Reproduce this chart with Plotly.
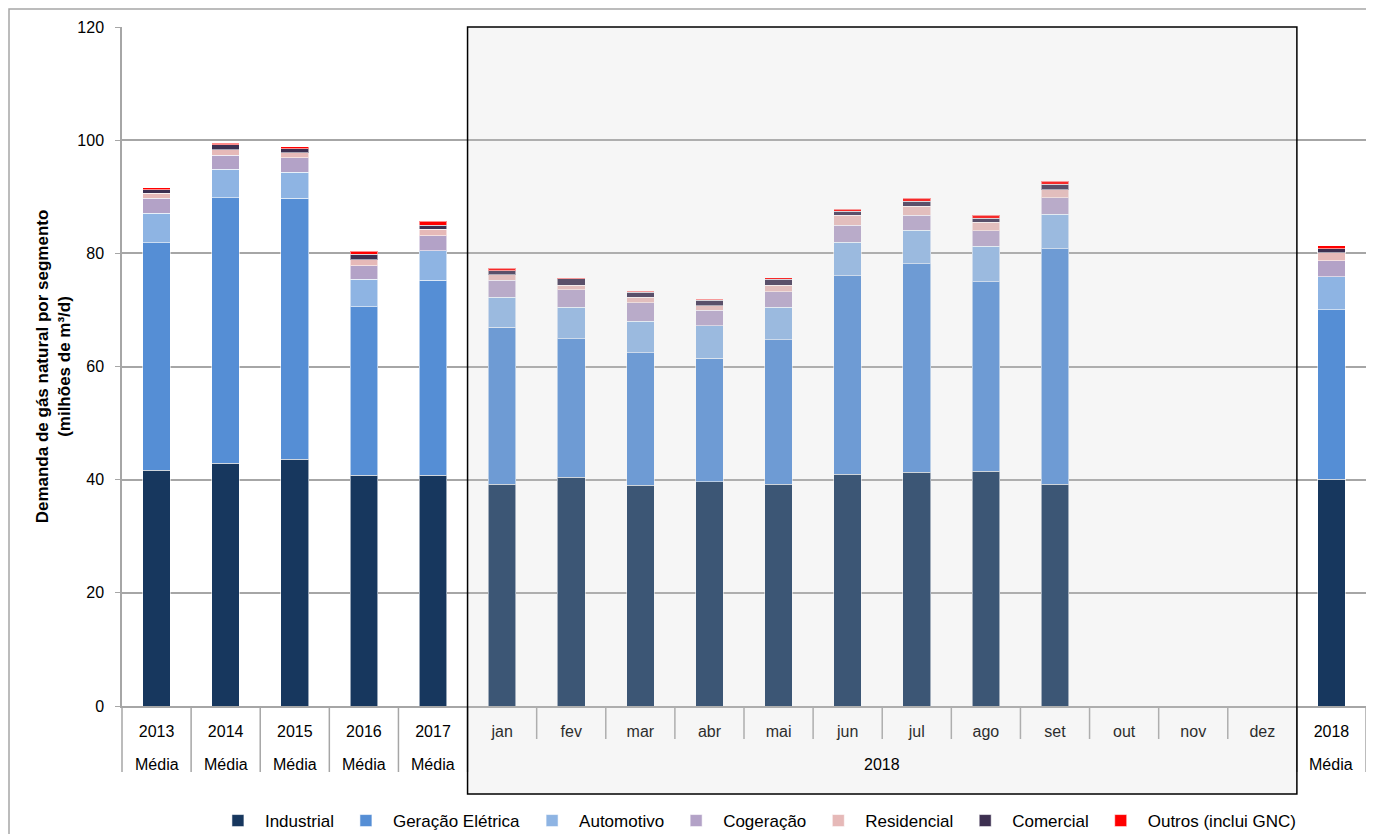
import plotly.graph_objects as go

# categorias do eixo x
anos = ["2013", "2014", "2015", "2016", "2017"]
meses = ["jan", "fev", "mar", "abr", "mai", "jun", "jul", "ago", "set", "out", "nov", "dez"]
media_2018 = "2018"
rotulo_media = "Média"
rotulo_ano = "2018"

# demanda por segmento (milhões de m³/d): 2013-2017 médias, meses de 2018, média 2018
industrial = [41.7, 42.9, 43.6, 40.8, 40.8,
              39.2, 40.4, 39.0, 39.6, 39.2, 41.0, 41.3, 41.5, 39.2, None, None, None,
              40.1]
geracao = [40.2, 46.9, 46.1, 29.8, 34.4,
           27.7, 24.5, 23.4, 21.9, 25.5, 35.05, 36.9, 33.5, 41.6, None, None, None,
           29.9]
automotivo = [5.2, 5.05, 4.6, 4.8, 5.3,
              5.3, 5.6, 5.6, 5.7, 5.8, 5.9, 5.9, 6.25, 6.1, None, None, None,
              5.9]
cogeracao = [2.6, 2.45, 2.6, 2.4, 2.6,
             3.0, 3.1, 3.3, 2.7, 2.7, 3.0, 2.6, 2.75, 2.9, None, None, None,
             2.8]
residencial = [0.9, 1.0, 0.9, 1.1, 1.2,
               1.0, 0.8, 0.9, 0.85, 1.2, 1.75, 1.6, 1.5, 1.45, None, None, None,
               1.4]
comercial = [0.65, 0.9, 0.7, 0.9, 0.7,
             0.7, 1.1, 0.9, 0.95, 1.0, 0.7, 0.9, 0.7, 0.95, None, None, None,
             0.7]
outros = [0.3, 0.3, 0.3, 0.6, 0.7,
          0.5, 0.2, 0.2, 0.2, 0.3, 0.4, 0.5, 0.5, 0.5, None, None, None,
          0.5]

series = [
    ("Industrial", industrial, "#17375E"),
    ("Geração Elétrica", geracao, "#558ED5"),
    ("Automotivo", automotivo, "#8EB4E3"),
    ("Cogeração", cogeracao, "#B3A2C7"),
    ("Residencial", residencial, "#E6B9B8"),
    ("Comercial", comercial, "#3D3051"),
    ("Outros (inclui GNC)", outros, "#FF0000"),
]

categorias = anos + meses + [media_2018]
n_anos = len(anos)
n_meses = len(meses)
n_cat = len(categorias)

font = "Liberation Sans, Arial, sans-serif"
grid = "#A6A6A6"

traces = []
for nome, valores, cor in series:
    traces.append(go.Bar(
        x=categorias,
        y=valores,
        name=nome,
        marker=dict(color=cor, line=dict(color="rgba(255,255,255,0.55)", width=1)),
    ))

# a página tem 8px de margem no body: a figura ocupa 1366x826
W, H = 1366, 826
ml, mr, mt, mb = 114, 8, 19, 128
plot_w = W - ml - mr
plot_h = H - mt - mb

shapes = []
annotations = []

# divisores do eixo x: longos nas colunas de média, curtos entre os meses
for k in range(n_cat + 1):
    longo = k <= n_anos or k >= n_anos + n_meses
    shapes.append(dict(type="line", xref="paper", yref="paper",
                       x0=k / n_cat, x1=k / n_cat, y0=0,
                       y1=-(66 if longo else 33) / plot_h,
                       line=dict(color=grid, width=1.5)))

# segundo nível dos rótulos
for i in list(range(n_anos)) + [n_cat - 1]:
    annotations.append(dict(text=rotulo_media, xref="paper", yref="paper",
                            x=(i + 0.5) / n_cat, y=-59 / plot_h,
                            xanchor="center", yanchor="middle", showarrow=False,
                            font=dict(size=16, color="black")))
annotations.append(dict(text=rotulo_ano, xref="paper", yref="paper",
                        x=(n_anos + n_meses / 2) / n_cat, y=-59 / plot_h,
                        xanchor="center", yanchor="middle", showarrow=False,
                        font=dict(size=16, color="black")))

# caixa destacando 2018
shapes.append(dict(type="rect", xref="paper", yref="paper",
                   x0=n_anos / n_cat, x1=(n_anos + n_meses) / n_cat,
                   y0=-88 / plot_h, y1=1,
                   fillcolor="rgba(210,210,210,0.2)",
                   line=dict(color="black", width=1.5), layer="above"))
# moldura do gráfico
shapes.append(dict(type="rect", xref="paper", yref="paper",
                   x0=-(ml - 1) / plot_w, x1=1.012, y0=-0.2, y1=1 + (mt - 1) / plot_h,
                   line=dict(color=grid, width=1.5), layer="below"))

layout = go.Layout(
    barmode="stack",
    bargap=0.6,
    width=W,
    height=H,
    margin=dict(l=ml, r=mr, t=mt, b=mb, autoexpand=False),
    paper_bgcolor="white",
    plot_bgcolor="white",
    font=dict(family=font, size=16, color="black"),
    xaxis=dict(
        type="category",
        automargin=False,
        showline=True, linecolor=grid, linewidth=1.5,
        ticks="", ticklabelstandoff=10,
        tickfont=dict(size=16, color="black"),
    ),
    yaxis=dict(
        range=[0, 120], dtick=20,
        automargin=False,
        showgrid=True, gridcolor=grid, gridwidth=1.5,
        showline=True, linecolor=grid, linewidth=1.5,
        ticks="outside", ticklen=5, tickcolor=grid, ticklabelstandoff=8,
        zeroline=False,
        tickfont=dict(size=16),
        title=dict(text="<b>Demanda de gás natural por segmento<br>(milhões de m³/d)</b>",
                   font=dict(size=17), standoff=2),
    ),
    legend=dict(orientation="h", x=0.51, xanchor="center", y=-115 / plot_h, yanchor="middle",
                font=dict(size=17), traceorder="normal", itemwidth=44),
    shapes=shapes,
    annotations=annotations,
)

fig = go.Figure(data=traces, layout=layout)
fig.write_html("out.html")
